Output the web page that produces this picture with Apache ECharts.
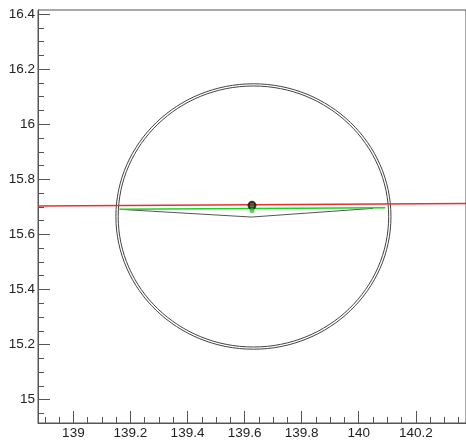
<!DOCTYPE html>
<html>
<head>
<meta charset="utf-8">
<script src="https://cdn.jsdelivr.net/npm/echarts@6/dist/echarts.min.js"></script>
<style>html,body{margin:0;padding:0;background:#fff;}#c{width:466px;height:440px;}</style>
</head>
<body>
<div id="c"></div>
<script>
// Axis ranges and tick labels
const xRange = [138.876, 140.376];
const yRange = [14.915, 16.415];
const xMajor = [139, 139.2, 139.4, 139.6, 139.8, 140, 140.2];
const xMinor = [138.9, 138.95, 139.05, 139.1, 139.15, 139.25, 139.3, 139.35, 139.45, 139.5, 139.55, 139.65, 139.7, 139.75, 139.85, 139.9, 139.95, 140.05, 140.1, 140.15, 140.25, 140.3, 140.35];
const yMajor = [15, 15.2, 15.4, 15.6, 15.8, 16, 16.2, 16.4];
const yMinor = [14.95, 15.05, 15.1, 15.15, 15.25, 15.3, 15.35, 15.45, 15.5, 15.55, 15.65, 15.7, 15.75, 15.85, 15.9, 15.95, 16.05, 16.1, 16.15, 16.25, 16.3, 16.35];

// Rings: [centerX, centerY, radius]
const rings = [[139.631, 15.665, 0.482], [139.631, 15.665, 0.474]];
// Lines
const redLine = [[138.876, 15.703], [140.376, 15.712]];
const greenLine = [[139.162, 15.691], [140.093, 15.697]];
const blackLine = [[139.162, 15.691], [139.624, 15.663], [140.050, 15.6945]];
// Markers
const blackPoint = [[139.626, 15.7055]];
const greenPoint = [[139.626, 15.687]];

const axisColor = '#555';
const labelStyle = {color: '#222', fontSize: 13.5, fontFamily: 'Liberation Sans, Arial, sans-serif'};

const chart = echarts.init(document.getElementById('c'), null, {renderer: 'canvas'});
chart.setOption({
  animation: false,
  backgroundColor: '#fff',
  grid: {left: 38, right: -1, top: 10, bottom: 16, show: true, borderColor: axisColor, borderWidth: 1, backgroundColor: 'transparent'},
  xAxis: [
    {type: 'value', position: 'bottom', min: xRange[0], max: xRange[1],
     axisLine: {show: true, lineStyle: {color: axisColor, width: 1}},
     axisTick: {show: true, inside: true, length: 12, customValues: xMajor, lineStyle: {color: axisColor}},
     axisLabel: Object.assign({show: true, margin: 3, customValues: xMajor}, labelStyle),
     splitLine: {show: false}},
    {type: 'value', position: 'bottom', min: xRange[0], max: xRange[1],
     axisLine: {show: false},
     axisTick: {show: true, inside: true, length: 6, customValues: xMinor, lineStyle: {color: axisColor}},
     axisLabel: {show: false, customValues: []},
     splitLine: {show: false}}
  ],
  yAxis: [
    {type: 'value', position: 'left', min: yRange[0], max: yRange[1],
     axisLine: {show: true, lineStyle: {color: axisColor, width: 1}},
     axisTick: {show: true, inside: true, length: 12, customValues: yMajor, lineStyle: {color: axisColor}},
     axisLabel: Object.assign({show: true, margin: 3, customValues: yMajor}, labelStyle),
     splitLine: {show: false}},
    {type: 'value', position: 'left', min: yRange[0], max: yRange[1],
     axisLine: {show: false},
     axisTick: {show: true, inside: true, length: 6, customValues: yMinor, lineStyle: {color: axisColor}},
     axisLabel: {show: false, customValues: []},
     splitLine: {show: false}}
  ],
  series: [
    {type: 'custom', xAxisIndex: 0, yAxisIndex: 0, data: rings, silent: true,
     renderItem: function (params, api) {
       const c = api.coord([api.value(0), api.value(1)]);
       const s = api.size([api.value(2), api.value(2)]);
       return {type: 'ellipse', shape: {cx: c[0], cy: c[1], rx: s[0], ry: s[1]},
               style: {fill: 'none', stroke: '#444', lineWidth: 1}};
     }},
    {type: 'line', data: blackLine, showSymbol: false, symbol: 'none', lineStyle: {color: '#555', width: 1}, z: 3},
    {type: 'line', data: greenLine, showSymbol: false, symbol: 'none', lineStyle: {color: '#1ad41a', width: 1.5}, z: 4},
    {type: 'line', data: redLine, showSymbol: false, symbol: 'none', lineStyle: {color: '#e8312f', width: 1.4}, z: 5},
    {type: 'scatter', data: blackPoint, symbol: 'circle', symbolSize: 7, itemStyle: {color: '#3a4a1a', borderColor: '#111', borderWidth: 2}, z: 6},
    {type: 'scatter', data: greenPoint, symbol: 'circle', symbolSize: 5, itemStyle: {color: '#22cc22'}, z: 7}
  ]
});
</script>
</body>
</html>
